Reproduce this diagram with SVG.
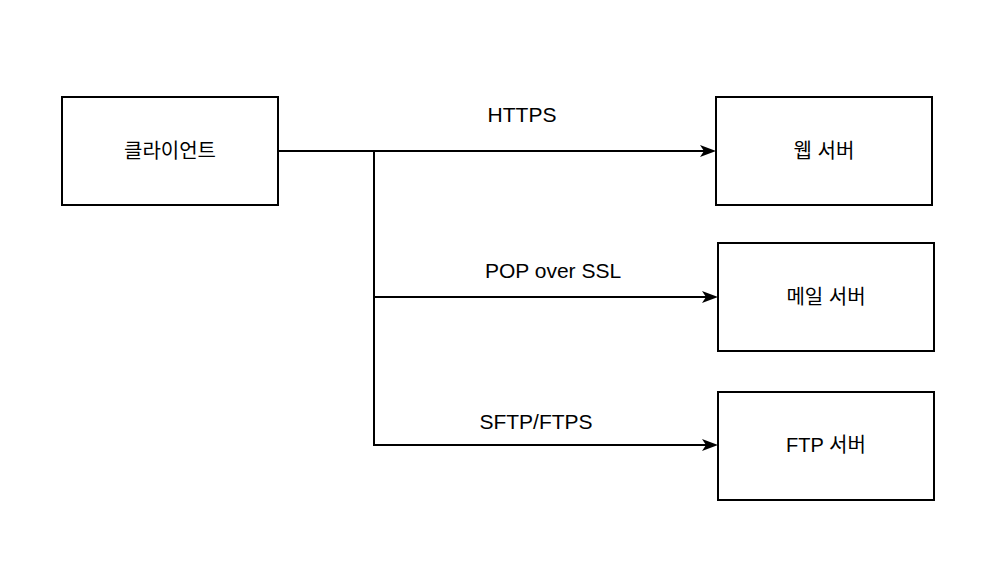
<svg xmlns="http://www.w3.org/2000/svg" width="996" height="566" viewBox="0 0 996 566">
<style>
.box{fill:#fff;stroke:#000;stroke-width:2}
.lbl{font-family:"Liberation Sans","Noto Sans CJK KR",Arial,sans-serif;font-size:20px;fill:#000;text-anchor:middle;dominant-baseline:central}
.elbl{font-family:"Liberation Sans",Arial,sans-serif;font-size:21px;fill:#000;text-anchor:middle;dominant-baseline:central}
.edge{fill:none;stroke:#000;stroke-width:2}
</style>
<defs>
<marker id="arr" viewBox="0 0 16 12" refX="12" refY="6" markerWidth="16" markerHeight="12" markerUnits="userSpaceOnUse" orient="auto">
<path d="M0,0 L16,6 L0,12 L4,6 Z" fill="#000"/>
</marker>
</defs>
<rect width="996" height="566" fill="#fff"/>
<g id="connectors">
<path class="edge" d="M278,151 L712,151" marker-end="url(#arr)"/>
<path class="edge" d="M374,151 L374,297 L714,297" marker-end="url(#arr)"/>
<path class="edge" d="M374,297 L374,445 L714,445" marker-end="url(#arr)"/>
<text class="elbl" x="522" y="114">HTTPS</text>
<text class="elbl" x="553" y="270">POP over SSL</text>
<text class="elbl" x="536" y="421">SFTP/FTPS</text>
</g>
<g id="client">
<rect class="box" x="62" y="97" width="216" height="108"/>
<text class="lbl" x="170" y="151">클라이언트</text>
</g>
<g id="web">
<rect class="box" x="716" y="97" width="216" height="108"/>
<text class="lbl" x="824" y="151">웹 서버</text>
</g>
<g id="mail">
<rect class="box" x="718" y="243" width="216" height="108"/>
<text class="lbl" x="826" y="297">메일 서버</text>
</g>
<g id="ftp">
<rect class="box" x="718" y="392" width="216" height="108"/>
<text class="lbl" x="826" y="445">FTP 서버</text>
</g>
</svg>
